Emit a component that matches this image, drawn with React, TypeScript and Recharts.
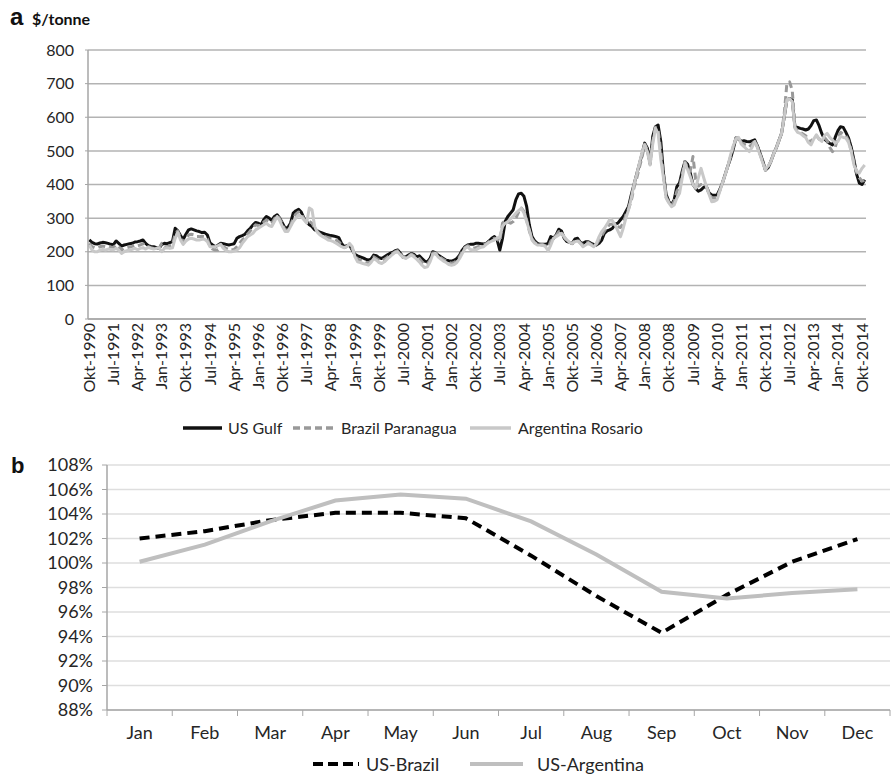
import { CartesianGrid, Legend, Line, LineChart, XAxis, YAxis } from 'recharts';

const FONT = 'Lato, Carlito, "Liberation Sans", sans-serif';
const TEXT = '#262626';
const AXIS = '#a6a6a6';

// panel a: monthly prices in $/tonne, Okt-1990 .. Nov-2014
const monthNames = ['Jan', 'Feb', 'Mar', 'Apr', 'May', 'Jun', 'Jul', 'Aug', 'Sep', 'Okt', 'Nov', 'Dec'];

const usGulf = [
  235, 228, 224,
  223, 226, 228, 227, 225, 222, 221, 232, 225, 217, 220, 222,
  224, 225, 229, 230, 232, 235, 225, 218, 216, 215, 212, 210,
  222, 225, 224, 227, 230, 270, 262, 248, 237, 252, 265, 268,
  265, 262, 260, 257, 258, 250, 226, 220, 215, 220, 225, 224,
  222, 220, 222, 224, 240, 245, 248, 252, 262, 270, 280, 287,
  285, 280, 295, 305, 300, 293, 305, 310, 300, 285, 270, 272,
  285, 315, 322, 326, 318, 300, 290, 280, 275, 265, 262, 258,
  255, 252, 250, 248, 247, 245, 242, 225, 215, 218, 220, 205,
  192, 188, 185, 182, 178, 175, 178, 190, 188, 182, 180, 185,
  190, 195, 198, 203, 205, 195, 183, 185, 190, 195, 192, 185,
  188, 180, 172, 170, 180, 200, 197, 190, 185, 180, 175, 173,
  172, 175, 180, 190, 205, 215, 220, 222, 222, 225, 225, 224,
  223, 225, 232, 240, 245, 235, 205, 240, 290, 305, 315, 325,
  355, 372, 374, 365, 335, 280, 245, 232, 225, 222, 222, 222,
  225, 245, 240, 250, 267, 262, 240, 230, 228, 225, 238, 240,
  228, 225, 230, 230, 225, 222, 220, 225, 235, 255, 262, 265,
  270, 282, 285, 295, 305, 320, 335, 369, 400, 430, 460, 490,
  523, 508, 463, 543, 572, 577, 528, 434, 370, 350, 340, 355,
  394, 405, 440, 468, 460, 434, 400, 388, 380, 384, 392, 394,
  375, 369, 368, 369, 385, 405, 430, 455, 478, 505, 538, 535,
  528, 530, 528, 527, 530, 533, 515, 493, 470, 443, 450, 468,
  490, 508, 530, 552, 600, 652, 655, 652, 572, 570, 567, 565,
  562, 565, 575, 590, 592, 575, 552, 535, 528, 522, 518, 540,
  560, 572, 570, 555, 538, 510, 473, 430, 404, 400, 414,
];

const brazilParanagua = [
  225, 215, 212,
  212, 215, 217, 215, 216, 214, 213, 220, 215, 205, 210, 212,
  214, 216, 220, 218, 220, 224, 216, 215, 212, 210, 208, 210,
  225, 215, 215, 218, 220, 255, 262, 240, 228, 240, 250, 252,
  250, 245, 245, 246, 245, 238, 215, 208, 205, 205, 212, 215,
  210, 206, 205, 207, 215, 225, 235, 242, 252, 262, 272, 280,
  278, 278, 288, 295, 290, 285, 298, 308, 298, 280, 265, 265,
  278, 300, 312, 318, 312, 298, 288, 290, 285, 270, 260, 252,
  248, 245, 242, 240, 238, 235, 230, 220, 212, 215, 222, 210,
  188, 178, 175, 172, 168, 167, 172, 185, 180, 175, 172, 178,
  183, 190, 195, 200, 203, 193, 183, 183, 187, 193, 188, 182,
  180, 170, 162, 163, 175, 196, 196, 188, 182, 177, 172, 168,
  166, 168, 174, 185, 200, 212, 218, 215, 210, 212, 215, 218,
  220, 224, 230, 236, 240, 238, 230, 285, 292, 288, 285, 290,
  300, 318, 330, 320, 295, 262, 238, 228, 222, 220, 221, 218,
  212, 232, 240, 248, 260, 258, 243, 232, 228, 224, 234, 236,
  226, 220, 225, 228, 222, 218, 222, 235, 248, 262, 272, 282,
  282, 280, 275, 272, 285, 310, 328, 352, 390, 418, 450, 480,
  520, 503, 460, 530, 570, 565, 500, 428, 362, 348, 337, 350,
  380, 392, 430, 468, 450, 440, 483, 415, 395, 400, 398, 394,
  372, 360, 360, 362, 382, 405, 430, 455, 483, 512, 538, 540,
  525, 520, 516, 512, 520, 530, 512, 490, 467, 443, 452, 468,
  490, 508, 530, 552, 610, 700, 705, 680, 570, 560, 555, 550,
  545, 535, 525, 540, 545, 535, 540, 540, 530, 510, 498, 510,
  540, 555, 550, 545, 530, 500, 465, 435, 420, 410, 412,
];

const argentinaRosario = [
  220, 205, 200,
  200, 205, 207, 205, 208, 207, 206, 210, 205, 195, 200, 203,
  205, 207, 210, 206, 210, 212, 208, 213, 210, 208, 210, 212,
  200, 210, 212, 210, 212, 240, 257, 235, 222, 232, 238, 240,
  238, 235, 235, 237, 237, 230, 215, 215, 215, 218, 222, 210,
  203, 200, 200, 202, 205, 212, 225, 235, 245, 250, 255, 265,
  270, 275, 280, 285, 278, 275, 290, 305, 292, 275, 260, 260,
  275, 290, 300, 310, 305, 295, 285, 330, 325, 275, 258, 250,
  245, 240, 235, 233, 230, 225, 220, 215, 212, 215, 225, 215,
  185, 170, 168, 165, 163, 160, 168, 180, 175, 168, 165, 170,
  178, 185, 192, 198, 200, 190, 183, 180, 185, 190, 185, 178,
  170, 160, 153, 155, 170, 192, 195, 185, 178, 172, 168, 162,
  160, 162, 168, 180, 195, 210, 215, 207, 205, 205, 210, 213,
  215, 222, 228, 232, 235, 240, 245, 275, 285, 290, 298, 305,
  315, 322, 329, 315, 290, 265, 235, 225, 220, 220, 220, 215,
  203, 220, 240, 245, 250, 255, 245, 235, 228, 225, 230, 232,
  225, 215, 220, 225, 220, 215, 225, 245, 260, 270, 282, 297,
  292, 280, 262, 245, 270, 300, 325, 360, 400, 430, 463, 495,
  518, 498, 458, 520, 567, 552, 475, 420, 359, 345, 334, 339,
  360, 374, 420, 463, 445, 423, 400, 389, 420, 448, 420, 394,
  370, 349, 350, 355, 380, 405, 429, 455, 488, 515, 535, 540,
  520, 513, 505, 498, 510, 528, 510, 488, 465, 443, 455, 468,
  490, 508, 530, 552, 600, 652, 655, 647, 567, 555, 552, 545,
  540, 525, 518, 535, 548, 535, 528, 545, 552, 540, 532, 523,
  528, 543, 540, 538, 525, 498, 458, 440, 434, 448, 458,
];

const priceTicks = [0, 100, 200, 300, 400, 500, 600, 700, 800];

// panel b: seasonal price ratios, %
const seasonMonths = ['Jan', 'Feb', 'Mar', 'Apr', 'May', 'Jun', 'Jul', 'Aug', 'Sep', 'Oct', 'Nov', 'Dec'];
const usBrazil = [102.0, 102.6, 103.5, 104.1, 104.1, 103.65, 100.6, 97.3, 94.3, 97.4, 100.1, 101.95];
const usArgentina = [100.1, 101.5, 103.4, 105.1, 105.6, 105.25, 103.4, 100.7, 97.65, 97.1, 97.55, 97.85];
const seasonTicks = [88, 90, 92, 94, 96, 98, 100, 102, 104, 106, 108];

const priceData = usGulf.map((v, i) => {
  const m = 9 + i;
  return {
    month: `${monthNames[m % 12]}-${1990 + Math.floor(m / 12)}`,
    usGulf: v,
    brazil: brazilParanagua[i],
    argentina: argentinaRosario[i],
  };
});

const seasonData = seasonMonths.map((month, i) => ({
  month,
  usBrazil: usBrazil[i],
  usArgentina: usArgentina[i],
}));

const A_BOTTOM = 319;
const B_BOTTOM = 265;
const B_HALF = 32.6;

function PriceTick(props: any) {
  const { x, payload } = props;
  const y = A_BOTTOM + 4;
  return (
    <text
      x={x}
      y={y}
      dy="0.35em"
      transform={`rotate(-90, ${x}, ${y})`}
      textAnchor="end"
      fontSize={16}
      fontFamily={FONT}
      fill={TEXT}
    >
      {payload.value}
    </text>
  );
}

function SeasonTick(props: any) {
  const { x, payload, index } = props;
  const i = index ?? payload.index;
  return (
    <g>
      <line x1={x - B_HALF} x2={x - B_HALF} y1={B_BOTTOM} y2={B_BOTTOM + 6} stroke={AXIS} />
      {i === seasonMonths.length - 1 && (
        <line x1={x + B_HALF} x2={x + B_HALF} y1={B_BOTTOM} y2={B_BOTTOM + 6} stroke={AXIS} />
      )}
      <text x={x} y={B_BOTTOM + 23} dy="0.35em" textAnchor="middle" fontSize={18} fontFamily={FONT} fill={TEXT}>
        {payload.value}
      </text>
    </g>
  );
}

type LegendItem = { label: string; stroke: string; dash?: string; width: number; iconX: number; iconW: number; textX: number };

const legendA: LegendItem[] = [
  { label: 'US Gulf', stroke: '#111111', width: 3.5, iconX: 183, iconW: 39, textX: 228 },
  { label: 'Brazil Paranagua', stroke: '#999999', dash: '7 4', width: 3.5, iconX: 293, iconW: 40, textX: 341 },
  { label: 'Argentina Rosario', stroke: '#c8c8c8', width: 3.5, iconX: 470, iconW: 41, textX: 518 },
];

const legendB: LegendItem[] = [
  { label: 'US-Brazil', stroke: '#000000', dash: '10 5', width: 4, iconX: 313, iconW: 46, textX: 366 },
  { label: 'US-Argentina', stroke: '#bfbfbf', width: 4, iconX: 470, iconW: 53, textX: 537 },
];

function LegendRow({ items, height, fontSize }: { items: LegendItem[]; height: number; fontSize: number }) {
  return (
    <div style={{ position: 'relative', width: 891, height }}>
      {items.map((it) => (
        <div key={it.label}>
          <svg
            width={it.iconW}
            height={height}
            style={{ position: 'absolute', left: it.iconX, top: 0 }}
          >
            <line
              x1={0}
              x2={it.iconW}
              y1={height / 2}
              y2={height / 2}
              stroke={it.stroke}
              strokeWidth={it.width}
              strokeDasharray={it.dash}
            />
          </svg>
          <span
            style={{
              position: 'absolute',
              left: it.textX,
              top: 0,
              lineHeight: `${height}px`,
              fontSize,
              fontFamily: FONT,
              color: TEXT,
              whiteSpace: 'nowrap',
            }}
          >
            {it.label}
          </span>
        </div>
      ))}
    </div>
  );
}

export default function App() {
  return (
    <div style={{ position: 'absolute', left: 0, top: 0, width: 891, height: 774, background: '#fff', fontFamily: FONT }}>
      <div style={{ position: 'absolute', left: 10, top: 3, fontSize: 24, fontWeight: 700, fontFamily: '"Liberation Sans", Arial, sans-serif', color: '#111' }}>
        a
      </div>
      <div style={{ position: 'absolute', left: 32, top: 9, fontSize: 16, fontWeight: 700, fontFamily: FONT, color: '#111' }}>
        $/tonne
      </div>
      <div style={{ position: 'absolute', left: 11, top: 453, fontSize: 22, fontWeight: 700, fontFamily: '"Liberation Sans", Arial, sans-serif', color: '#111' }}>
        b
      </div>

      <div style={{ position: 'absolute', left: 0, top: 0 }}>
        <LineChart width={891} height={445} data={priceData} margin={{ top: 50, right: 25, bottom: 5, left: 0 }}>
          <CartesianGrid vertical={false} stroke="#b3b3b3" strokeWidth={1.5} />
          <XAxis
            dataKey="month"
            interval={8}
            height={97}
            tickLine={false}
            axisLine={{ stroke: AXIS, strokeWidth: 1.5 }}
            tick={PriceTick}
            padding={{ left: 1.3, right: 1.3 }}
          />
          <YAxis
            width={88}
            domain={[0, 800]}
            ticks={priceTicks}
            interval={0}
            tickSize={3}
            tickMargin={11}
            axisLine={{ stroke: AXIS, strokeWidth: 1.5 }}
            tickLine={{ stroke: AXIS }}
            tick={{ fontSize: 16, fill: TEXT, fontFamily: FONT }}
          />
          <Legend
            verticalAlign="bottom"
            wrapperStyle={{ left: 0, width: 891 }}
            content={() => <LegendRow items={legendA} height={24} fontSize={16} />}
          />
          <Line type="linear" dataKey="usGulf" stroke="#111111" strokeWidth={3} dot={false} isAnimationActive={false} strokeLinejoin="round" />
          <Line type="linear" dataKey="brazil" stroke="#999999" strokeWidth={3} strokeDasharray="7 4" dot={false} isAnimationActive={false} strokeLinejoin="round" />
          <Line type="linear" dataKey="argentina" stroke="#c8c8c8" strokeWidth={3} dot={false} isAnimationActive={false} strokeLinejoin="round" />
        </LineChart>
      </div>

      <div style={{ position: 'absolute', left: 0, top: 445 }}>
        <LineChart width={891} height={329} data={seasonData} margin={{ top: 20, right: 1, bottom: 0, left: 0 }}>
          <CartesianGrid vertical={false} stroke="#dedede" strokeWidth={1.5} />
          <XAxis
            dataKey="month"
            interval={0}
            height={44}
            tickLine={false}
            axisLine={{ stroke: AXIS, strokeWidth: 1.5 }}
            tick={SeasonTick}
            padding={{ left: B_HALF, right: B_HALF }}
          />
          <YAxis
            width={107}
            domain={[88, 108]}
            ticks={seasonTicks}
            interval={0}
            tickSize={5}
            tickMargin={9}
            tickFormatter={(v: number) => `${v}%`}
            axisLine={{ stroke: AXIS, strokeWidth: 1.5 }}
            tickLine={{ stroke: AXIS }}
            tick={{ fontSize: 18, fill: TEXT, fontFamily: FONT }}
          />
          <Legend
            verticalAlign="bottom"
            wrapperStyle={{ left: 0, width: 891 }}
            content={() => <LegendRow items={legendB} height={20} fontSize={18} />}
          />
          <Line type="linear" dataKey="usBrazil" stroke="#000000" strokeWidth={4} strokeDasharray="10 6" dot={false} isAnimationActive={false} />
          <Line type="linear" dataKey="usArgentina" stroke="#bfbfbf" strokeWidth={4} dot={false} isAnimationActive={false} />
        </LineChart>
      </div>
    </div>
  );
}
